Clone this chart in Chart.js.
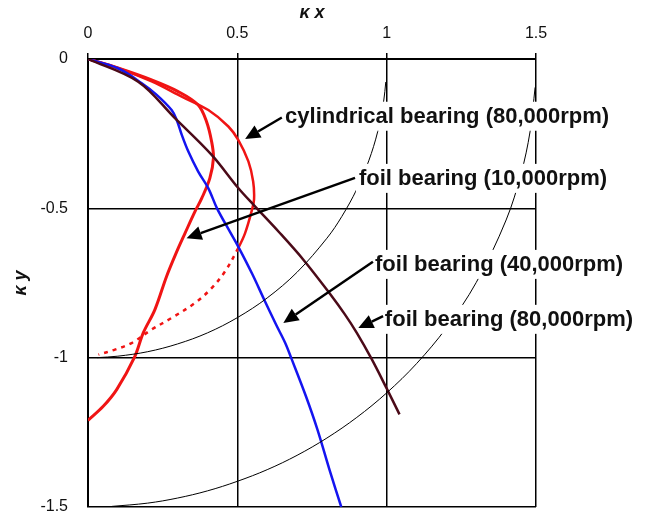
<!DOCTYPE html>
<html>
<head>
<meta charset="utf-8">
<script src="https://cdn.jsdelivr.net/npm/chart.js@4.4.1/dist/chart.umd.min.js"></script>
<style>
  body { margin: 0; background: #fff; }
  canvas { display: block; }
</style>
</head>
<body>
<canvas id="myChart" width="664" height="519"></canvas>
<script>
// axis ticks
const xTicks = [0, 0.5, 1, 1.5];
const yTicks = [0, -0.5, -1, -1.5];

// shaft orbit curves, [kx, ky]
const cylindrical80k = [
  [0, 0], [0.1, -0.03], [0.213, -0.075], [0.314, -0.126], [0.403, -0.171],
  [0.47, -0.226], [0.503, -0.271], [0.537, -0.343], [0.553, -0.41], [0.556, -0.47],
  [0.549, -0.505], [0.526, -0.583], [0.503, -0.633], [0.459, -0.711], [0.414, -0.767],
  [0.358, -0.817], [0.28, -0.867], [0.213, -0.906], [0.146, -0.951], [0.09, -0.973],
  [0.035, -0.99]
];
const foil10k = [
  [0, 0], [0.1, -0.03], [0.213, -0.07], [0.302, -0.109], [0.369, -0.154],
  [0.397, -0.21], [0.414, -0.277], [0.42, -0.332], [0.408, -0.399], [0.381, -0.466],
  [0.358, -0.511], [0.325, -0.583], [0.295, -0.65], [0.263, -0.728], [0.224, -0.839],
  [0.185, -0.917], [0.155, -1.0], [0.096, -1.107], [0.051, -1.163], [0, -1.21]
];
const foil40k = [
  [0, 0], [0.1, -0.031], [0.18, -0.081], [0.23, -0.12], [0.28, -0.171],
  [0.297, -0.204], [0.314, -0.254], [0.336, -0.31], [0.369, -0.377], [0.403, -0.433],
  [0.432, -0.5], [0.475, -0.578], [0.503, -0.628], [0.55, -0.72], [0.59, -0.806],
  [0.63, -0.89], [0.66, -0.95], [0.68, -1.0], [0.73, -1.13], [0.768, -1.24],
  [0.81, -1.38], [0.848, -1.5]
];
const foil80k = [
  [0, 0], [0.168, -0.076], [0.291, -0.198], [0.414, -0.321],
  [0.503, -0.432], [0.556, -0.49], [0.64, -0.58], [0.721, -0.672], [0.81, -0.786],
  [0.86, -0.855], [0.9, -0.917], [0.95, -1.005], [1.0, -1.103], [1.043, -1.19]
];

// thin reference circles (radius 1 and 1.5)
const circleR1 = [
  [0.03, -1.0], [0.1, -0.995], [0.2, -0.98], [0.3, -0.954], [0.4, -0.917],
  [0.5, -0.866], [0.6, -0.8], [0.7, -0.714], [0.8, -0.6], [0.85, -0.527],
  [0.9, -0.436], [0.94, -0.341], [0.97, -0.243], [0.99, -0.141], [0.997, -0.077]
];
const circleR15 = [
  [0.08, -1.498], [0.2, -1.487], [0.3, -1.47], [0.4, -1.446], [0.5, -1.414],
  [0.6, -1.375], [0.7, -1.327], [0.8, -1.269], [0.9, -1.2], [1.0, -1.118],
  [1.1, -1.02], [1.2, -0.9], [1.3, -0.748], [1.4, -0.539], [1.45, -0.384],
  [1.48, -0.244], [1.497, -0.095]
];

const callouts = [
  { text: 'cylindrical bearing (80,000rpm)', at: [0.66, -0.19], from: [0.649, -0.196], to: [0.526, -0.268] },
  { text: 'foil bearing (10,000rpm)', at: [0.907, -0.398], from: [0.894, -0.398], to: [0.33, -0.6] },
  { text: 'foil bearing (40,000rpm)', at: [0.961, -0.686], from: [0.954, -0.679], to: [0.654, -0.884] },
  { text: 'foil bearing (80,000rpm)', at: [0.994, -0.87], from: [0.988, -0.861], to: [0.905, -0.901] }
];

const toXY = arr => arr.map(p => ({ x: p[0], y: p[1] }));

function curve(data, color, width, extra) {
  return Object.assign({
    data: toXY(data),
    showLine: true,
    borderColor: color,
    borderWidth: width,
    pointRadius: 0,
    tension: 0.35,
    fill: false
  }, extra || {});
}

const calloutPlugin = {
  id: 'callouts',
  afterDatasetsDraw(chart) {
    const ctx = chart.ctx;
    const sx = chart.scales.x, sy = chart.scales.y;
    ctx.save();
    ctx.font = 'bold 22px "Liberation Sans", Arial, sans-serif';
    ctx.textBaseline = 'middle';
    callouts.forEach(c => {
      const tx = sx.getPixelForValue(c.at[0]);
      const ty = sy.getPixelForValue(c.at[1]);
      const w = ctx.measureText(c.text).width;
      ctx.fillStyle = '#fff';
      ctx.fillRect(tx - 3, ty - 14, w + 6, 29);
      ctx.fillStyle = '#111';
      ctx.fillText(c.text, tx, ty + 1);

      // arrow
      const x0 = sx.getPixelForValue(c.from[0]), y0 = sy.getPixelForValue(c.from[1]);
      const x1 = sx.getPixelForValue(c.to[0]), y1 = sy.getPixelForValue(c.to[1]);
      const ang = Math.atan2(y1 - y0, x1 - x0);
      const hl = 15, hw = 7;
      const bx = x1 - hl * Math.cos(ang), by = y1 - hl * Math.sin(ang);
      ctx.strokeStyle = '#000';
      ctx.lineWidth = 2.5;
      ctx.beginPath();
      ctx.moveTo(x0, y0);
      ctx.lineTo(bx, by);
      ctx.stroke();
      ctx.fillStyle = '#000';
      ctx.beginPath();
      ctx.moveTo(x1, y1);
      ctx.lineTo(bx + hw * Math.sin(ang), by - hw * Math.cos(ang));
      ctx.lineTo(bx - hw * Math.sin(ang), by + hw * Math.cos(ang));
      ctx.closePath();
      ctx.fill();
    });
    ctx.restore();
  }
};

const tickFont = { family: '"Liberation Sans", Arial, sans-serif', size: 16 };
const titleFont = { family: '"Liberation Sans", Arial, sans-serif', size: 18, weight: 'bold', style: 'italic' };

new Chart(document.getElementById('myChart').getContext('2d'), {
  type: 'scatter',
  data: {
    datasets: [
      curve(circleR1, '#000', 1),
      curve(circleR15, '#000', 1),
      curve(foil80k, '#4b0a18', 2.5),
      curve(foil40k, '#1414f0', 2.5),
      curve(foil10k, '#f01414', 3),
      curve(cylindrical80k, '#f01414', 2.5, {
        segment: {
          borderDash: c => (cylindrical80k[c.p0DataIndex][1] < -0.62 ? [4, 5] : undefined)
        }
      })
    ]
  },
  options: {
    responsive: false,
    animation: false,
    layout: { padding: { left: 0, top: 0, right: 128, bottom: 12 } },
    plugins: { legend: { display: false }, tooltip: { enabled: false } },
    scales: {
      x: {
        type: 'linear',
        position: 'top',
        min: 0, max: 1.5,
        afterBuildTicks: s => { s.ticks = xTicks.map(v => ({ value: v })); },
        afterFit: s => { s.height = 59; },
        ticks: { font: tickFont, color: '#111', padding: 10, maxRotation: 0, callback: v => String(v) },
        grid: { color: '#000', lineWidth: 1.5, drawTicks: true, tickLength: 6 },
        border: { display: true, color: '#000', width: 2 },
        title: { display: true, text: 'κ x', font: titleFont, color: '#111', padding: { top: 2, bottom: 0 } }
      },
      y: {
        type: 'linear',
        position: 'left',
        min: -1.5, max: 0,
        afterBuildTicks: s => { s.ticks = yTicks.map(v => ({ value: v })); },
        afterFit: s => { s.width = 88; s.paddingTop = 0; s.paddingBottom = 0; },
        ticks: { font: tickFont, color: '#111', padding: 20, callback: v => String(v) },
        grid: { color: '#000', lineWidth: 1.5, drawTicks: false },
        border: { display: true, color: '#000', width: 2 },
        title: { display: true, text: 'κ y', font: titleFont, color: '#111', padding: { top: 10, bottom: 0 } }
      }
    }
  },
  plugins: [calloutPlugin]
});
</script>
</body>
</html>
